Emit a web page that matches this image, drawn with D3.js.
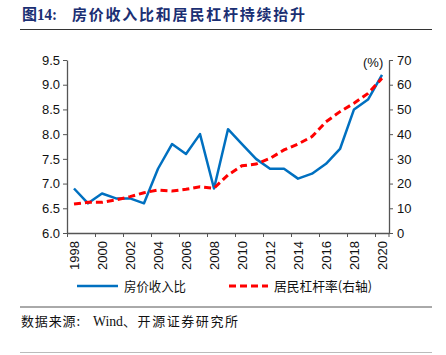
<!DOCTYPE html>
<html><head><meta charset="utf-8">
<script src="https://cdn.jsdelivr.net/npm/d3@7"></script>
<style>body{margin:0;background:#fff;}svg{display:block;}</style>
</head><body>
<svg id="c" width="446" height="355"></svg>
<script>
const years = d3.range(1998, 2021).map(String);
const priceIncome = [6.9,6.6,6.8,6.7,6.7,6.6,7.3,7.8,7.6,8.0,6.9,8.1,7.8,7.5,7.3,7.3,7.1,7.2,7.4,7.7,8.5,8.7,9.2];
const leverage = [11.7,12.4,12.4,13.4,14.7,16.3,17.4,17.0,17.7,18.7,18.1,23.5,27.2,27.9,30.2,33.6,36.0,39.0,45.0,49.1,52.5,56.5,62.6];
const leftTicks = [6.0,6.5,7.0,7.5,8.0,8.5,9.0,9.5];
const rightTicks = [0,10,20,30,40,50,60,70];
const labelYears = years.filter((d,i)=>i%2===0);

const svg = d3.select("#c");
const L=67, R=389, T=60, B=233;
const x = d3.scaleBand().domain(years).range([L,R]);
const yL = d3.scaleLinear().domain([6,9.5]).range([B,T]);
const yR = d3.scaleLinear().domain([0,70]).range([B,T]);
const font = "Liberation Sans, Arial, sans-serif";
const cjk = "'Noto Sans CJK SC', sans-serif";
const axisCol = "#555";

// title
svg.append("text").attr("x",22).attr("y",20).attr("font-family","Liberation Serif, 'Noto Sans CJK SC', serif")
  .attr("font-weight","bold").attr("font-size",16).attr("fill","#1b2f73")
  .attr("textLength",35).attr("lengthAdjust","spacingAndGlyphs").text("图14:");
svg.append("text").attr("x",72).attr("y",20).attr("font-family",cjk)
  .attr("font-weight","bold").attr("font-size",15).attr("fill","#1b2f73")
  .attr("textLength",233).attr("lengthAdjust","spacing").text("房价收入比和居民杠杆持续抬升");
svg.append("line").attr("x1",20).attr("x2",432).attr("y1",29.5).attr("y2",29.5).attr("stroke","#333").attr("stroke-width",1);

// left axis
const gl = svg.append("g").attr("transform",`translate(${L},0)`)
  .call(d3.axisLeft(yL).tickValues(leftTicks).tickFormat(d3.format(".1f")).tickSize(4).tickSizeOuter(0));
// right axis
const gr = svg.append("g").attr("transform",`translate(${R},0)`)
  .call(d3.axisRight(yR).tickValues(rightTicks).tickSize(4).tickSizeOuter(0));
// x axis
const gx = svg.append("g").attr("transform",`translate(0,${B})`)
  .call(d3.axisBottom(x).tickValues(labelYears).tickSize(0).tickSizeOuter(0));
gx.selectAll(".bt").data(labelYears).enter().append("line")
  .attr("x1",d=>Math.round(x(d))+0.5).attr("x2",d=>Math.round(x(d))+0.5).attr("y1",0).attr("y2",4)
  .attr("stroke",axisCol);
gx.append("line").attr("x1",R).attr("x2",R).attr("y1",0).attr("y2",4).attr("stroke",axisCol);

[gl,gr,gx].forEach(g=>{
  g.selectAll("path.domain").attr("stroke",axisCol).attr("stroke-width",1.3);
  g.selectAll(".tick line").attr("stroke",axisCol);
  g.selectAll("text").attr("font-family",font).attr("font-size",13).attr("fill","#111");
});
gx.selectAll(".tick text").attr("transform","rotate(-90)").attr("text-anchor","end")
  .attr("x",-8).attr("y",0).attr("dy","0.35em");
gl.selectAll(".tick text").attr("x",-7);
gr.selectAll(".tick text").attr("x",8);

svg.append("text").attr("x",363).attr("y",67).attr("font-family",font).attr("font-size",13).attr("fill","#111").text("(%)");

const cx = d=>x(d)+x.bandwidth()/2;
svg.append("path").datum(priceIncome).attr("fill","none").attr("stroke","#0070C0").attr("stroke-width",2.5)
  .attr("stroke-linejoin","round")
  .attr("d",d3.line().x((d,i)=>cx(years[i])).y(d=>yL(d)));
svg.append("path").datum(leverage).attr("fill","none").attr("stroke","#FF0000").attr("stroke-width",3)
  .attr("stroke-dasharray","7,4")
  .attr("d",d3.line().x((d,i)=>cx(years[i])).y(d=>yR(d)));

// legend
const lg = svg.append("g");
lg.append("line").attr("x1",77).attr("x2",118).attr("y1",286).attr("y2",286).attr("stroke","#0070C0").attr("stroke-width",2.5);
lg.append("text").attr("x",124).attr("y",291).attr("font-family",cjk).attr("font-size",13).attr("fill","#111")
  .attr("textLength",62).attr("lengthAdjust","spacingAndGlyphs").text("房价收入比");
lg.append("line").attr("x1",229).attr("x2",268).attr("y1",286).attr("y2",286).attr("stroke","#FF0000").attr("stroke-width",3).attr("stroke-dasharray","7,4");
lg.append("text").attr("x",274).attr("y",291).attr("font-family",cjk).attr("font-size",13).attr("fill","#111")
  .attr("textLength",98).attr("lengthAdjust","spacingAndGlyphs").text("居民杠杆率(右轴)");

svg.append("line").attr("x1",20).attr("x2",432).attr("y1",307).attr("y2",307).attr("stroke","#555").attr("stroke-width",1);
svg.append("text").attr("x",21).attr("y",326).attr("font-family",cjk).attr("font-size",13).attr("fill","#111")
  .attr("textLength",59).attr("lengthAdjust","spacing").text("数据来源:");
svg.append("text").attr("x",93).attr("y",326).attr("font-family","Liberation Serif, serif").attr("font-size",14).attr("fill","#111")
  .attr("textLength",30).attr("lengthAdjust","spacingAndGlyphs").text("Wind");
svg.append("text").attr("x",123).attr("y",326).attr("font-family",cjk).attr("font-size",13).attr("fill","#111")
  .attr("textLength",115).attr("lengthAdjust","spacing").text("、开源证券研究所");
svg.append("line").attr("x1",20).attr("x2",432).attr("y1",352.5).attr("y2",352.5).attr("stroke","#bbb").attr("stroke-width",1);
</script>
</body></html>
